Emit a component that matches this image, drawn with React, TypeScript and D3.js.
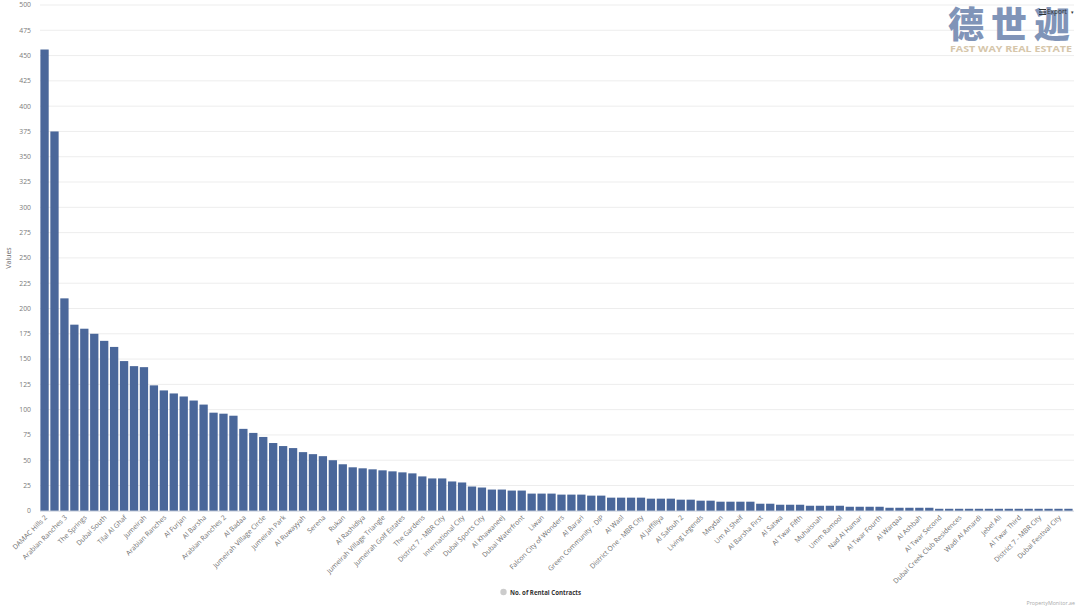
import React from "react";
import * as d3 from "d3";

const shownLabels = [
  "DAMAC Hills 2", "Arabian Ranches 3", "The Springs", "Dubai South", "Tilal Al Ghaf",
  "Jumeirah", "Arabian Ranches", "Al Furjan", "Al Barsha", "Arabian Ranches 2",
  "Al Badaa", "Jumeirah Village Circle", "Jumeirah Park", "Al Ruwayyah", "Serena",
  "Rukan", "Al Rashidiya", "Jumeirah Village Triangle", "Jumeirah Golf Estates", "The Gardens",
  "District 7 - MBR City", "International City", "Dubai Sports City", "Al Khawaneej", "Dubai Waterfront",
  "Liwan", "Falcon City of Wonders", "Al Barari", "Green Community - DIP", "Al Wasl",
  "District One - MBR City", "Al Jaffiliya", "Al Safouh 2", "Living Legends", "Meydan",
  "Um Al Sheif", "Al Barsha First", "Al Satwa", "Al Twar Fifth", "Muhaisnah",
  "Umm Ramool", "Nad Al Hamar", "Al Twar Fourth", "Al Warqaa", "Al Ashbah",
  "Al Twar Second", "Dubai Creek Club Residences", "Wadi Al Amardi", "Jebel Ali", "Al Twar Third",
  "District 7 - MBR City", "Dubai Festival City",
];

const hiddenLabels = [
  "Dubai Hills Estate", "Town Square", "Mudon", "Dubai Silicon Oasis", "Al Quoz",
  "Mirdif", "Al Warsan", "Dubai Marina", "Business Bay", "Downtown Dubai",
  "Arjan", "Al Barsha South", "Motor City", "Jumeirah Lake Towers", "Al Mizhar",
  "Al Qusais", "Nadd Al Sheba", "The Lakes", "The Meadows", "Emirates Hills",
  "Palm Jumeirah", "Al Mankhool", "Al Karama", "Deira", "Al Nahda",
  "Al Garhoud", "Oud Metha", "Bur Dubai", "Al Hudaiba", "Al Raffa",
  "Jumeirah Beach Residence", "Dubai Investment Park", "Al Sufouh 1", "Al Mamzar", "Hor Al Anz",
  "Al Twar First", "Al Barsha Second", "Umm Suqeim", "Al Manara", "Al Safa",
  "Jumeirah Islands", "The Villa", "Remraam", "Layan", "Villanova",
  "Al Khail Gate", "Al Quoz Fourth", "Muhaisnah Second", "Nad Shamma", "Al Rigga",
  "Al Baraha", "Warsan Fourth",
];

const categories = shownLabels.flatMap((name, i) => [name, hiddenLabels[i]]);

const contracts = [
  456, 375, 210, 184, 180, 175, 168, 162, 148, 143,
  142, 124, 119, 116, 113, 109, 105, 97, 96, 94,
  81, 77, 73, 67, 64, 62, 58, 56, 54, 50,
  46, 43, 42, 41, 40, 39, 38, 37, 34, 32,
  32, 29, 28, 24, 23, 21, 21, 20, 20, 17,
  17, 17, 16, 16, 16, 15, 15, 13, 13, 13,
  13, 12, 12, 12, 11, 11, 10, 10, 9, 9,
  9, 9, 7, 7, 6, 6, 6, 5, 5, 5,
  5, 4, 4, 4, 4, 3, 3, 3, 3, 3,
  2, 2, 2, 2, 2, 2, 2, 2, 2, 2,
  2, 2, 2, 2,
];

const yTicks = d3.range(0, 525, 25);

const seriesName = "No. of Rental Contracts";
const font = "'Open Sans', 'DejaVu Sans', sans-serif";

export default function App() {
  const W = 1080;
  const H = 608;
  const x = d3
    .scaleBand<string>()
    .domain(categories.map((_, i) => String(i)))
    .range([39.6, 1073.4])
    .paddingInner(0.165)
    .paddingOuter(0.08);
  const y = d3.scaleLinear().domain([0, 500]).range([510.8, 5]);

  return (
    <div style={{ position: "fixed", left: 0, top: 0, width: W, height: H, background: "#fff" }}>
      <svg width={W} height={H} style={{ display: "block", fontFamily: font }}>
        <rect x={0} y={0} width={W} height={H} fill="#fff" />
        {yTicks.map((t) => (
          <g key={t}>
            <line x1={40} x2={1074} y1={y(t)} y2={y(t)} stroke="#ededed" strokeWidth={1} />
            <text x={31} y={y(t) + 2.4} textAnchor="end" fontSize={6.8} fill="#7a7a7a">
              {t}
            </text>
          </g>
        ))}
        <text
          transform={`translate(11,${258}) rotate(-90)`}
          textAnchor="middle"
          fontSize={7}
          fill="#666"
        >
          Values
        </text>
        {contracts.map((v, i) => (
          <rect
            key={i}
            x={x(String(i))}
            y={y(v)}
            width={x.bandwidth()}
            height={y(0) - y(v)}
            fill="#4a679a"
          />
        ))}
        <line x1={40} x2={1074} y1={511.3} y2={511.3} stroke="#d8dde6" strokeWidth={1} />
        {categories.map((c, i) =>
          i % 2 === 0 ? (
            <text
              key={i}
              transform={`translate(${(x(String(i)) as number) + x.bandwidth() / 2 + 3},${518}) rotate(-45)`}
              textAnchor="end"
              fontSize={6.9}
              fill="#707070"
            >
              {c}
            </text>
          ) : null
        )}
        {/* legend */}
        <circle cx={503.5} cy={592} r={3.2} fill="#cccccc" />
        <text
          x={510}
          y={594.5}
          fontSize={6.6}
          fontWeight={700}
          fill="#333"
          textLength={71}
          lengthAdjust="spacingAndGlyphs"
        >
          {seriesName}
        </text>
        <text x={1075} y={605} textAnchor="end" fontSize={5.3} fill="#aaa">
          PropertyMonitor.ae
        </text>
        {/* watermark */}
        <text
          x={948}
          y={38}
          fontSize={36}
          fontWeight={900}
          fill="#8094b8"
          textLength={122}
          lengthAdjust="spacing"
          fontFamily="'Noto Sans CJK SC', sans-serif"
        >
          德世迦
        </text>
        <text
          x={950}
          y={51.5}
          fontSize={9.6}
          fontWeight={700}
          fill="#d6c6aa"
          textLength={122}
          lengthAdjust="spacingAndGlyphs"
          fontFamily="'Open Sans', sans-serif"
        >
          FAST WAY REAL ESTATE
        </text>
        {/* export button */}
        <g fill="#333">
          <rect x={1039} y={9} width={7} height={1} />
          <rect x={1039} y={11.5} width={7} height={1} />
          <rect x={1039} y={14} width={7} height={1} />
          <text x={1047} y={14} fontSize={6.5}>
            Export
          </text>
          <text x={1071} y={14} fontSize={5}>
            ▾
          </text>
        </g>
      </svg>
    </div>
  );
}
